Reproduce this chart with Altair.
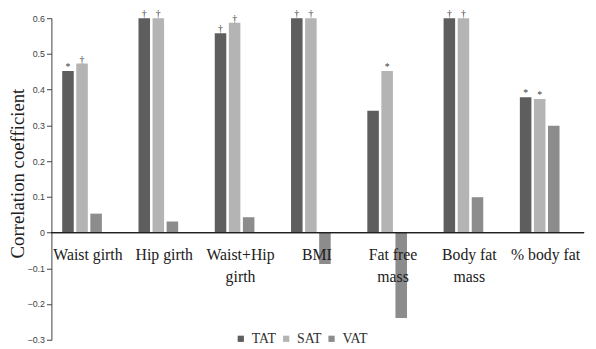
import altair as alt
import pandas as pd

categories = ["Waist girth", "Hip girth", "Waist+Hip girth", "BMI",
              "Fat free mass", "Body fat mass", "% body fat"]
cat_labels = ["Waist girth", "Hip girth", "Waist+Hip\ngirth", "BMI",
              "Fat free\nmass", "Body fat\nmass", "% body fat"]
series = ["TAT", "SAT", "VAT"]
tat = [0.452, 0.600, 0.558, 0.600, 0.341, 0.600, 0.379]
sat = [0.473, 0.600, 0.587, 0.600, 0.452, 0.600, 0.374]
vat = [0.053, 0.031, 0.043, -0.088, -0.239, 0.099, 0.299]
tat_sig = ["*", "†", "†", "†", "", "†", "*"]
sat_sig = ["†", "†", "†", "†", "*", "†", "*"]
vat_sig = ["", "", "", "", "", "", ""]
colors = ["#5e5e5e", "#b4b4b4", "#8c8c8c"]
y_ticks = [-0.3, -0.2, -0.1, 0, 0.1, 0.2, 0.3, 0.4, 0.5, 0.6]

rows = []
for s, vals, sig in zip(series, [tat, sat, vat], [tat_sig, sat_sig, vat_sig]):
    for c, v, g in zip(categories, vals, sig):
        rows.append({"cat": c, "series": s, "value": v, "sig": g})
df = pd.DataFrame(rows)
lab_df = pd.DataFrame({"cat": categories, "label": cat_labels, "zero": [0] * len(categories)})

xscale = alt.Scale(domain=categories, range=[-7.6, 533.7], paddingInner=0.48, paddingOuter=0.24)
yscale = alt.Scale(domain=[-0.3, 0.6], nice=False, zero=False)
xoff = alt.XOffset("series:N", sort=series, scale=alt.Scale(domain=series, paddingInner=0.18, paddingOuter=0))

bars = alt.Chart(df).mark_bar().encode(
    x=alt.X("cat:N", sort=categories, scale=xscale, axis=None),
    xOffset=xoff,
    y=alt.Y("value:Q", scale=yscale,
            axis=alt.Axis(values=y_ticks, format=".1~f", grid=False, title="Correlation coefficient",
                          titleFont="Liberation Serif", titleFontSize=19, titleFontWeight="normal",
                          titleColor="#202020", titleAngle=270, titleX=-34, titleY=157,
                          titleAlign="center", titleBaseline="middle",
                          labelFont="Liberation Sans Narrow, Liberation Sans", labelFontSize=9,
                          labelColor="#404040", tickSize=5, tickColor="#404040", labelPadding=2,
                          domainColor="#404040", tickCount=10)),
    y2=alt.datum(0),
    color=alt.Color("series:N", sort=series, scale=alt.Scale(domain=series, range=colors),
                    legend=alt.Legend(orient="none", legendX=185, legendY=318, direction="horizontal",
                                      title=None, symbolType="square", symbolSize=40,
                                      symbolStrokeWidth=0, labelFont="Liberation Serif",
                                      labelFontSize=14, labelColor="#303030", labelOffset=4,
                                      columnPadding=3, padding=0)),
)

sig = alt.Chart(df).mark_text(baseline="alphabetic", dy=-1, fontSize=10,
                              font="Liberation Serif").encode(
    x=alt.X("cat:N", sort=categories, scale=xscale, axis=None),
    xOffset=xoff,
    y=alt.Y("value:Q", scale=yscale),
    text="sig:N",
    color=alt.value("#404040"),
)

zero_line = alt.Chart(lab_df).mark_rule(color="#202020", strokeWidth=1).encode(
    y=alt.Y("zero:Q", scale=yscale)
)

labels = alt.Chart(lab_df).mark_text(baseline="alphabetic", dy=28, dx=6, lineHeight=22,
                                     lineBreak="\n", fontSize=16, font="Liberation Serif",
                                     color="#202020").encode(
    x=alt.X("cat:N", sort=categories, scale=xscale, axis=None),
    y=alt.Y("zero:Q", scale=yscale),
    text="label:N",
)

chart = alt.layer(bars, sig, zero_line, labels).properties(
    width=540, height=326,
    autosize=alt.AutoSizeParams(type="none"),
    padding={"left": 44, "top": 8, "right": 4, "bottom": 6},
).configure_view(stroke=None).configure_axis(domainColor="#404040")

chart.save("out.html", embed_options={"renderer": "svg", "actions": False})
